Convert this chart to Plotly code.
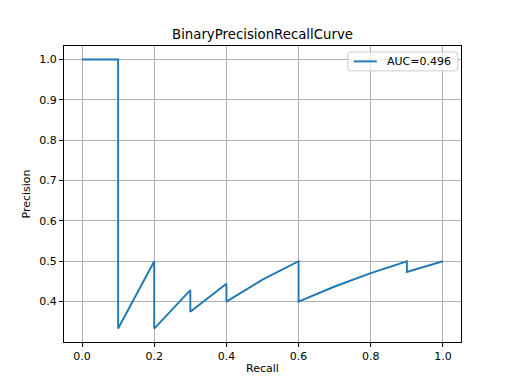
import plotly.graph_objects as go

recall = [1.0, 0.9, 0.9, 0.8, 0.7, 0.6, 0.6, 0.5, 0.4, 0.4, 0.3, 0.3, 0.2, 0.2, 0.1, 0.1, 0.0]
precision = [0.5, 0.4737, 0.5, 0.4706, 0.4375, 0.4, 0.5, 0.4545, 0.4, 0.4444,
             0.375, 0.4286, 0.3333, 0.5, 0.3333, 1.0, 1.0]
x_ticks = [0.0, 0.2, 0.4, 0.6, 0.8, 1.0]
y_ticks = [0.4, 0.5, 0.6, 0.7, 0.8, 0.9, 1.0]
legend_label = "AUC=0.496"
title = "BinaryPrecisionRecallCurve"
line_color = "#1f77b4"

fig = go.Figure()
fig.add_trace(go.Scatter(x=recall, y=precision, mode="lines", name=legend_label,
                         showlegend=False,
                         line=dict(color=line_color, width=1.9)))

font = "DejaVu Sans"
axis_common = dict(showline=True, linecolor="black", linewidth=1, mirror=True,
                   ticks="outside", ticklen=4, tickcolor="black", tickwidth=1,
                   showgrid=True, gridcolor="#b0b0b0", gridwidth=0.9,
                   zeroline=False, tickfont=dict(family=font, size=11, color="black"))

# legend box (matplotlib-style, upper right) in paper coordinates
x0, x1, y0, y1, r = 0.715, 0.992, 0.916, 0.980, 0.008
ry = r * 397 / 296
legend_path = (f"M {x0+r},{y0} L {x1-r},{y0} Q {x1},{y0} {x1},{y0+ry} "
               f"L {x1},{y1-ry} Q {x1},{y1} {x1-r},{y1} L {x0+r},{y1} "
               f"Q {x0},{y1} {x0},{y1-ry} L {x0},{y0+ry} Q {x0},{y0} {x0+r},{y0} Z")

fig.update_layout(
    width=512, height=384,
    margin=dict(l=64, r=51, t=46, b=42),
    paper_bgcolor="white", plot_bgcolor="white",
    title=dict(text=title, x=0.5, xref="paper", xanchor="center",
               y=0.91, yref="container", yanchor="middle",
               font=dict(family=font, size=13.3, color="black")),
    xaxis=dict(range=[-0.05, 1.05], tickvals=x_ticks, tickformat=".1f",
               title=dict(text="Recall", font=dict(family=font, size=11, color="black"), standoff=2),
               **axis_common),
    yaxis=dict(range=[0.3, 1.0333], tickvals=y_ticks, tickformat=".1f",
               title=dict(text="Precision", font=dict(family=font, size=11, color="black"), standoff=6),
               **axis_common),
    showlegend=False,
    shapes=[
        dict(type="path", xref="paper", yref="paper", path=legend_path,
             fillcolor="rgba(255,255,255,0.8)", line=dict(color="#cccccc", width=1)),
        dict(type="line", xref="paper", yref="paper", x0=0.730, x1=0.788, y0=0.948, y1=0.948,
             line=dict(color=line_color, width=1.9)),
    ],
    annotations=[
        dict(text=legend_label, xref="paper", yref="paper", x=0.808, y=0.948,
             xanchor="left", yanchor="middle", showarrow=False,
             font=dict(family=font, size=11, color="black")),
    ],
)

fig.write_html("out.html", config={"displayModeBar": False},
               post_script="document.body.style.margin='0';document.body.style.padding='0';")
